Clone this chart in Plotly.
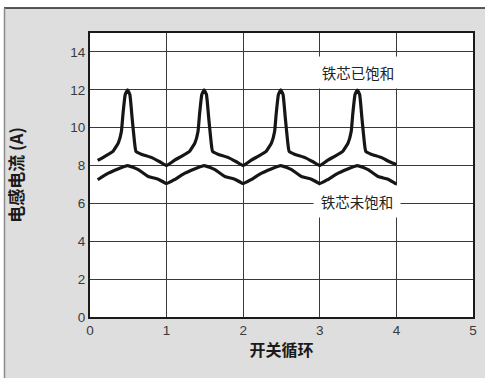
import plotly.graph_objects as go

# Saturated core (upper curve)
sat_x = [0.10, 0.20, 0.30, 0.37, 0.41, 0.43, 0.46, 0.49, 0.52, 0.55, 0.58, 0.60, 0.67, 0.80, 0.91, 1.00,
         1.10, 1.20, 1.30, 1.37, 1.41, 1.43, 1.46, 1.49, 1.52, 1.55, 1.58, 1.60, 1.67, 1.80, 1.91, 2.00,
         2.10, 2.20, 2.30, 2.37, 2.41, 2.43, 2.46, 2.49, 2.52, 2.55, 2.58, 2.60, 2.67, 2.80, 2.91, 3.00,
         3.10, 3.20, 3.30, 3.37, 3.41, 3.43, 3.46, 3.49, 3.52, 3.55, 3.58, 3.60, 3.67, 3.80, 3.91, 4.00]
sat_y = [8.27, 8.50, 8.75, 9.20, 9.80, 10.70, 11.75, 12.00, 11.75, 10.50, 9.28, 8.75, 8.60, 8.43, 8.20, 8.00,
         8.27, 8.50, 8.75, 9.20, 9.80, 10.70, 11.75, 12.00, 11.75, 10.50, 9.28, 8.75, 8.60, 8.43, 8.20, 8.00,
         8.27, 8.50, 8.75, 9.20, 9.80, 10.70, 11.75, 12.00, 11.75, 10.50, 9.28, 8.75, 8.60, 8.43, 8.20, 8.00,
         8.27, 8.50, 8.75, 9.20, 9.80, 10.70, 11.75, 12.00, 11.75, 10.50, 9.28, 8.75, 8.60, 8.43, 8.20, 8.05]

# Unsaturated core (lower curve)
unsat_x = [0.10, 0.24, 0.49, 0.63, 0.76, 0.89, 1.00,
           1.10, 1.24, 1.49, 1.63, 1.76, 1.89, 2.00,
           2.10, 2.24, 2.49, 2.63, 2.76, 2.89, 3.00,
           3.10, 3.24, 3.49, 3.63, 3.76, 3.89, 4.00]
unsat_y = [7.25, 7.60, 8.00, 7.78, 7.42, 7.28, 7.05,
           7.25, 7.60, 8.00, 7.78, 7.42, 7.28, 7.05,
           7.25, 7.60, 8.00, 7.78, 7.42, 7.28, 7.05,
           7.25, 7.60, 8.00, 7.78, 7.42, 7.28, 7.02]

x_ticks = [0, 1, 2, 3, 4, 5]
y_ticks = [0, 2, 4, 6, 8, 10, 12, 14]

label_sat = "铁芯已饱和"
label_unsat = "铁芯未饱和"
x_title = "开关循环"
y_title = "电感电流 (A)"

fig = go.Figure()
line_style = dict(color="#161616", width=3.2, shape="spline", smoothing=0.4)
fig.add_trace(go.Scatter(x=sat_x, y=sat_y, mode="lines", line=line_style, showlegend=False))
fig.add_trace(go.Scatter(x=unsat_x, y=unsat_y, mode="lines", line=line_style, showlegend=False))

L, R, T, B = 90, 17, 33, 69
W, H = 490, 386
pw, ph = W - L - R, H - T - B

def px_x(p):
    return (p - L) / pw

def px_y(p):
    return (H - B - p) / ph

shapes = [
    dict(type="rect", xref="paper", yref="paper", layer="below",
         x0=px_x(4), x1=px_x(485), y0=px_y(378), y1=px_y(8),
         fillcolor="#dedede", line=dict(width=0)),
    dict(type="rect", xref="paper", yref="paper", layer="below",
         x0=0, x1=1, y0=0, y1=1, fillcolor="white", line=dict(width=0)),
    dict(type="line", xref="paper", yref="paper",
         x0=px_x(4), x1=px_x(485), y0=px_y(8), y1=px_y(8),
         line=dict(color="#222222", width=1.5)),
    dict(type="line", xref="paper", yref="paper",
         x0=px_x(4.5), x1=px_x(4.5), y0=px_y(8), y1=px_y(378),
         line=dict(color="#8a8a8a", width=1.5)),
]

ann_font = dict(family="Noto Sans CJK SC", size=14.5, color="#222222")
annotations = [
    dict(x=3.5, y=12.9, xref="x", yref="y", text=label_sat, showarrow=False,
         font=ann_font, bgcolor="white", borderpad=5, width=76),
    dict(x=3.49, y=6.12, xref="x", yref="y", text=label_unsat, showarrow=False,
         font=ann_font, bgcolor="white", borderpad=5, width=76),
]

fig.update_layout(
    width=W, height=H,
    margin=dict(l=L, r=R, t=T, b=B),
    paper_bgcolor="white",
    plot_bgcolor="rgba(0,0,0,0)",
    shapes=shapes,
    annotations=annotations,
    font=dict(family="Liberation Sans, Arial", size=13, color="#333333"),
)
axis_common = dict(
    showgrid=True, gridcolor="#3a3a3a", gridwidth=1,
    zeroline=False, showline=True, linecolor="#1a1a1a", linewidth=2, mirror=True,
    ticks="", tickfont=dict(family="Liberation Sans, Arial", size=13.5, color="#3a3a3a"),
)
fig.update_xaxes(range=[0, 5], tickvals=x_ticks, automargin=False,
                 title=dict(text=x_title, standoff=8,
                            font=dict(family="Noto Sans CJK SC", size=16, color="#1a1a1a", weight="bold")),
                 **axis_common)
fig.update_yaxes(range=[0, 15], tickvals=y_ticks, automargin=False,
                 title=dict(text=y_title, standoff=42,
                            font=dict(family="Noto Sans CJK SC", size=17, color="#1a1a1a", weight="bold")),
                 **axis_common)

fig.write_html("out.html")
